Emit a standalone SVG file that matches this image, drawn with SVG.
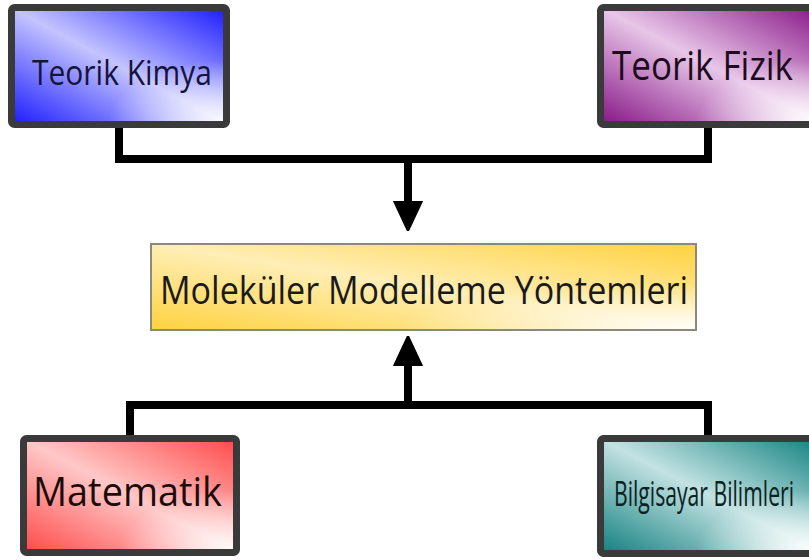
<svg xmlns="http://www.w3.org/2000/svg" width="809" height="560" viewBox="0 0 809 560">
  <defs>
    <linearGradient id="gBlue" x1="1" y1="0" x2="0" y2="1">
      <stop offset="0" stop-color="#1a1aff"/>
      <stop offset="0.5" stop-color="#c4c4ff"/>
      <stop offset="1" stop-color="#1a1aff"/>
    </linearGradient>
    <linearGradient id="gPurple" x1="1" y1="0" x2="0" y2="1">
      <stop offset="0" stop-color="#861486"/>
      <stop offset="0.5" stop-color="#e8c6e8"/>
      <stop offset="1" stop-color="#861486"/>
    </linearGradient>
    <linearGradient id="gYellow" x1="1" y1="0" x2="0" y2="1">
      <stop offset="0" stop-color="#ffd23f"/>
      <stop offset="0.5" stop-color="#ffeeb6"/>
      <stop offset="1" stop-color="#ffd23f"/>
    </linearGradient>
    <linearGradient id="gRed" x1="1" y1="0" x2="0" y2="1">
      <stop offset="0" stop-color="#ff4848"/>
      <stop offset="0.5" stop-color="#ffc8c8"/>
      <stop offset="1" stop-color="#ff4848"/>
    </linearGradient>
    <linearGradient id="gTeal" x1="1" y1="0" x2="0" y2="1">
      <stop offset="0" stop-color="#117f7f"/>
      <stop offset="0.5" stop-color="#c3e2e2"/>
      <stop offset="1" stop-color="#117f7f"/>
    </linearGradient>
    <radialGradient id="gShine" cx="1" cy="1" r="0.55">
      <stop offset="0" stop-color="#ffffff" stop-opacity="0.9"/>
      <stop offset="1" stop-color="#ffffff" stop-opacity="0"/>
    </radialGradient>
    <marker id="arrow" viewBox="0 0 30 30" refX="4" refY="15" markerWidth="30" markerHeight="30" markerUnits="userSpaceOnUse" orient="auto">
      <path d="M0,1 L30,15 L0,29 Z" fill="#000" stroke="#000" stroke-width="2" stroke-linejoin="round"/>
    </marker>
  </defs>
  <style>
    .frame { stroke: #3a3a3a; stroke-width: 7; }
    .shine { fill: url(#gShine); }
    .lbl { font-family: "Open Sans", "Noto Sans", "Liberation Sans", sans-serif; }
    .conn { fill: none; stroke: #000; stroke-width: 8; stroke-linejoin: miter; stroke-linecap: butt; }
  </style>
  <rect width="809" height="560" fill="#ffffff"/>

  <g id="connectors">
    <path class="conn" d="M119,128 V159 H708 V128"/>
    <path class="conn" d="M408,159 V205" marker-end="url(#arrow)"/>
    <path class="conn" d="M130,435 V405 H708 V435"/>
    <path class="conn" d="M408,405 V362" marker-end="url(#arrow)"/>
  </g>

  <g id="teorik-kimya">
    <rect x="11.5" y="7.5" width="215" height="117" rx="3" fill="url(#gBlue)" class="frame"/>
    <rect x="15" y="11" width="208" height="110" class="shine"/>
    <text class="lbl" x="122" y="85" font-size="34" fill="#14143c" text-anchor="middle" textLength="180" lengthAdjust="spacingAndGlyphs">Teorik Kimya</text>
  </g>

  <g id="teorik-fizik">
    <rect x="600.5" y="7.5" width="220" height="117" rx="3" fill="url(#gPurple)" class="frame"/>
    <rect x="604" y="11" width="205" height="110" class="shine"/>
    <text class="lbl" x="612" y="80" font-size="40" fill="#1c0c1c" textLength="181" lengthAdjust="spacingAndGlyphs">Teorik Fizik</text>
  </g>

  <g id="molekuler-modelleme">
    <rect x="151" y="244" width="545" height="86" fill="url(#gYellow)" stroke="#8a8a7a" stroke-width="2"/>
    <rect x="152" y="245" width="543" height="84" class="shine"/>
    <text class="lbl" x="160" y="304" font-size="38" fill="#1a1a1a" textLength="528" lengthAdjust="spacingAndGlyphs">Moleküler Modelleme Yöntemleri</text>
  </g>

  <g id="matematik">
    <rect x="23.5" y="438.5" width="213" height="114" rx="3" fill="url(#gRed)" class="frame"/>
    <rect x="27" y="442" width="206" height="107" class="shine"/>
    <text class="lbl" x="33" y="506" font-size="40" fill="#1c0c0c" textLength="189" lengthAdjust="spacingAndGlyphs">Matematik</text>
  </g>

  <g id="bilgisayar-bilimleri">
    <rect x="600.5" y="438.5" width="220" height="115" rx="3" fill="url(#gTeal)" class="frame"/>
    <rect x="604" y="442" width="205" height="108" class="shine"/>
    <text class="lbl" x="614" y="506" font-size="35" fill="#0c2222" textLength="180" lengthAdjust="spacingAndGlyphs">Bilgisayar Bilimleri</text>
  </g>
</svg>
